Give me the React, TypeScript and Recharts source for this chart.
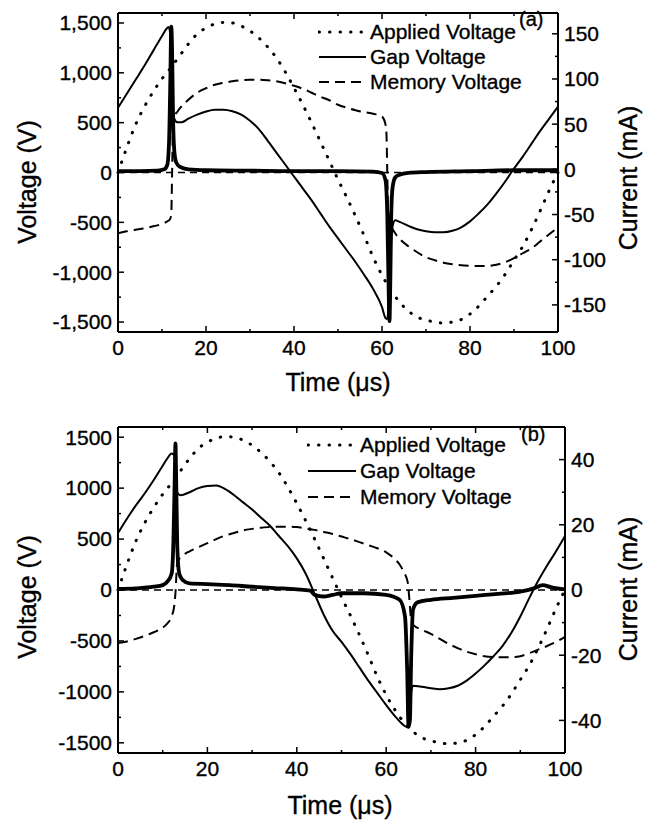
import React from "react";
import { LineChart, Line, XAxis, YAxis, ReferenceLine, Legend } from "recharts";

const FONT = "'Liberation Sans', Arial, Helvetica, sans-serif";

// [time (µs), value]
const appliedVoltage: [number, number][] = [
  [0, 0], [2, 250], [4, 480], [6, 660], [8, 810], [10, 940], [12, 1050], [14, 1170], [16, 1290],
  [18, 1390], [20, 1450], [22, 1490], [24, 1505], [26, 1500], [28, 1470], [30, 1420], [32, 1350],
  [34, 1260], [36, 1150], [38, 1010], [40, 850], [42, 680], [44, 500], [46, 310], [48, 120],
  [50, -70], [52, -250], [54, -440], [56, -640], [58, -850], [60, -1030], [62, -1180], [64, -1300],
  [66, -1390], [68, -1450], [70, -1480], [72, -1500], [74, -1510], [76, -1500], [78, -1475],
  [80, -1420], [82, -1340], [84, -1240], [86, -1140], [88, -1020], [90, -880], [92, -740],
  [94, -570], [96, -380], [98, -180], [100, 0],
];

const gapVoltageA: [number, number][] = [
  [0, 650], [2, 790], [4, 930], [6, 1070], [8, 1220], [10, 1370], [11, 1440], [11.5, 1460],
  [11.9, 1380], [12.2, 1000], [12.5, 650], [12.9, 530], [13.5, 505], [14.5, 505], [16, 540],
  [18, 580], [20, 612], [22, 630], [24, 630], [26, 615], [28, 580], [30, 520], [32, 435], [34, 320],
  [36, 200], [38, 80], [40, -40], [42, -160], [44, -280], [46, -410], [48, -540], [50, -660],
  [52, -780], [54, -900], [56, -1030], [58, -1170], [60, -1350], [60.8, -1460], [61.2, -1470],
  [61.6, -1200], [62, -750], [62.4, -540], [63, -480], [64, -495], [66, -535], [68, -570],
  [70, -590], [72, -600], [74, -600], [76, -585], [78, -550], [80, -490], [82, -410], [84, -320],
  [86, -210], [88, -90], [90, 40], [92, 160], [94, 290], [96, 420], [98, 540], [100, 660],
];

const memoryVoltageA: [number, number][] = [
  [0, -610], [2, -590], [4, -575], [6, -560], [8, -540], [10, -515], [11, -495], [11.8, -470],
  [12.1, -420], [12.3, 0], [12.5, 450], [12.8, 560], [13.5, 610], [14, 640], [16, 730], [18, 800],
  [20, 845], [22, 880], [24, 900], [26, 915], [28, 925], [30, 930], [32, 930], [34, 925], [36, 915],
  [38, 895], [40, 870], [42, 840], [44, 800], [46, 760], [48, 725], [50, 680], [52, 650], [54, 625],
  [56, 605], [58, 590], [60, 560], [60.7, 500], [61, 400], [61.2, 0], [61.4, -400], [62, -520],
  [63, -610], [64, -665], [66, -740], [68, -800], [70, -850], [72, -880], [74, -905], [76, -920],
  [78, -930], [80, -935], [82, -938], [84, -937], [86, -925], [88, -900], [90, -860], [92, -810],
  [94, -760], [96, -690], [98, -620], [100, -550],
];

const currentA: [number, number][] = [
  [0, -2], [5, -2], [9, -1.5], [10.5, 0], [11.2, 5], [11.6, 30], [11.9, 100], [12.1, 158],
  [12.3, 130], [12.5, 60], [12.8, 20], [13.2, 8], [14, 3], [16, 0], [20, -1], [30, -1.5],
  [40, -2], [50, -2], [58, -2.5], [60, -4], [60.8, -12], [61.2, -50], [61.5, -130], [61.7, -168],
  [61.9, -120], [62.1, -50], [62.4, -20], [63, -9], [64, -6], [66, -4], [70, -3], [80, -2],
  [90, -1], [100, -1],
];

const gapVoltageB: [number, number][] = [
  [0, 560], [2, 700], [4, 830], [6, 950], [8, 1080], [10, 1220], [11, 1290], [12, 1340],
  [12.6, 1320], [13, 1100], [13.3, 950], [14, 930], [16, 960], [18, 1000], [20, 1020], [22, 1025],
  [24, 990], [26, 930], [28, 860], [30, 790], [32, 710], [34, 630], [36, 530], [38, 430], [40, 310],
  [42, 160], [44, -40], [46, -240], [48, -400], [50, -510], [52, -630], [54, -760], [56, -890],
  [58, -1010], [60, -1130], [62, -1240], [64, -1330], [64.9, -1350], [65.3, -1300], [65.6, -1000],
  [66, -940], [68, -950], [70, -965], [72, -975], [74, -965], [76, -940], [78, -890], [80, -820],
  [82, -740], [84, -650], [86, -550], [88, -420], [90, -260], [92, -80], [94, 90], [96, 240],
  [98, 380], [100, 530],
];

const memoryVoltageB: [number, number][] = [
  [0, -520], [2, -505], [4, -480], [6, -450], [8, -415], [10, -370], [11, -330], [12, -260],
  [12.6, -150], [12.9, 0], [13.2, 250], [13.6, 300], [14, 320], [16, 380], [18, 420], [20, 460],
  [22, 500], [24, 535], [26, 560], [28, 585], [30, 600], [32, 612], [34, 618], [36, 622], [38, 622],
  [40, 618], [42, 605], [44, 590], [46, 570], [48, 550], [50, 525], [52, 500], [54, 470], [56, 440],
  [58, 410], [60, 370], [62, 300], [63, 250], [64, 170], [64.8, 80], [65.2, -100], [65.6, -300],
  [66, -340], [68, -390], [70, -430], [72, -480], [74, -530], [76, -570], [78, -605], [80, -630],
  [82, -650], [84, -658], [86, -660], [88, -660], [90, -650], [92, -620], [94, -585], [96, -550],
  [98, -510], [100, -460],
];

const currentB: [number, number][] = [
  [0, 0.3], [4, 0.5], [8, 1], [10, 1.5], [11, 2.5], [12, 5], [12.4, 15], [12.7, 35], [12.85, 45],
  [13, 35], [13.3, 12], [13.7, 5], [14.5, 3], [16, 2], [20, 1.8], [25, 1.5], [30, 1], [35, 0.6],
  [40, 0.2], [43, -0.2], [44, -1.5], [46, -2], [48, -1.5], [50, -1], [55, -1], [60, -1.5], [63, -3],
  [64.2, -8], [64.7, -25], [65, -42], [65.3, -40], [65.6, -20], [66, -6], [67, -3.8], [70, -3],
  [75, -2.4], [80, -1.8], [85, -1.2], [90, -0.5], [93, 0.5], [95, 1.5], [97, 0.8], [100, 0.2],
];

const timeTicks = [0, 10, 20, 30, 40, 50, 60, 70, 80, 90, 100];
const timeLabels = [0, 20, 40, 60, 80, 100];
const voltTicks = [-1500, -1250, -1000, -750, -500, -250, 0, 250, 500, 750, 1000, 1250, 1500];
const voltLabels = [-1500, -1000, -500, 0, 500, 1000, 1500];
const currentTicksA = [-150, -125, -100, -75, -50, -25, 0, 25, 50, 75, 100, 125, 150];
const currentLabelsA = [-150, -100, -50, 0, 50, 100, 150];
const currentTicksB = [-40, -30, -20, -10, 0, 10, 20, 30, 40];
const currentLabelsB = [-40, -20, 0, 20, 40];

const toRows = (pts: [number, number][]) => pts.map(([t, v]) => ({ t, v }));

const W = 660;
const H = 411;

const styles = {
  applied: { w: 3, dash: "0.5 10", cap: "round" as const },
  gap: { w: 2, dash: undefined, cap: "butt" as const },
  memory: { w: 2, dash: "10 6", cap: "butt" as const },
};

const legendItems = [
  { name: "Applied Voltage", ...styles.applied },
  { name: "Gap Voltage", ...styles.gap },
  { name: "Memory Voltage", ...styles.memory },
];

interface PanelSpec {
  tag: string;
  plot: { top: number; bottom: number; left: number; right: number };
  curDomain: [number, number];
  curTicks: number[];
  curLabels: number[];
  commas: boolean;
  gap: [number, number][];
  memory: [number, number][];
  current: [number, number][];
  legend: { left: number; top: number; row: number; sample: number; tagLeft: number; tagTop: number };
  titles: { vx: number; vy: number; cx: number; cy: number; tx: number; ty: number };
}

const txt = { fontFamily: FONT, fontSize: 21, fill: "#000", stroke: "#000", strokeWidth: 0.35 };

function Panel({ p }: { p: PanelSpec }) {
  const { plot } = p;
  const fmtV = (v: number) => (p.commas ? v.toLocaleString("en-US") : String(v));

  const voltTick = ({ x, y, payload }: any) => {
    const major = voltLabels.includes(payload.value);
    return (
      <g>
        <line x1={x} x2={x + (major ? 6 : 3)} y1={y} y2={y} stroke="#000" strokeWidth={1.5} />
        {major && (
          <text x={x - 6} y={y} dy="0.35em" textAnchor="end" {...txt}>
            {fmtV(payload.value)}
          </text>
        )}
      </g>
    );
  };

  const curTick = ({ x, y, payload }: any) => {
    const major = p.curLabels.includes(payload.value);
    return (
      <g>
        <line x1={x} x2={x - (major ? 6 : 3)} y1={y} y2={y} stroke="#000" strokeWidth={1.5} />
        {major && (
          <text x={x + 6} y={y} dy="0.35em" textAnchor="start" {...txt}>
            {payload.value}
          </text>
        )}
      </g>
    );
  };

  const timeTick = ({ x, y, payload }: any) => {
    const major = timeLabels.includes(payload.value);
    const len = major ? 6 : 3;
    return (
      <g>
        <line x1={x} x2={x} y1={y} y2={y - len} stroke="#000" strokeWidth={1.5} />
        <line x1={x} x2={x} y1={plot.top} y2={plot.top + len} stroke="#000" strokeWidth={1.5} />
        {major && (
          <text x={x} y={y + 7} dy="0.75em" textAnchor="middle" {...txt}>
            {payload.value}
          </text>
        )}
      </g>
    );
  };

  const title = (s: string, x: number, y: number, rot: boolean) => ({
    content: () => (
      <text
        x={x}
        y={y}
        dy="0.35em"
        textAnchor="middle"
        transform={rot ? `rotate(-90 ${x} ${y})` : undefined}
        fontFamily={FONT}
        fontSize={25}
        fill="#000"
        stroke="#000"
        strokeWidth={0.35}
      >
        {s}
      </text>
    ),
  });

  const lg = p.legend;
  const legendBox = () => (
    <div
      style={{
        position: "relative",
        width: 250,
        height: 3 * lg.row,
        fontFamily: FONT,
        fontSize: 21,
        color: "#000",
        WebkitTextStroke: "0.35px #000",
      }}
    >
      {legendItems.map((it, i) => (
        <div
          key={it.name}
          style={{ position: "absolute", left: 0, top: i * lg.row, height: lg.row, lineHeight: `${lg.row}px`, display: "flex", alignItems: "center", whiteSpace: "nowrap" }}
        >
          <svg width={lg.sample} height={10} style={{ display: "block" }}>
            <line x1={1} x2={lg.sample - 1} y1={5} y2={5} stroke="#000" strokeWidth={it.w} strokeDasharray={it.dash} strokeLinecap={it.cap} />
          </svg>
          <span style={{ marginLeft: 3 }}>{it.name}</span>
        </div>
      ))}
      <div style={{ position: "absolute", left: lg.tagLeft, top: lg.tagTop, lineHeight: "25px", fontSize: 20 }}>{p.tag}</div>
    </div>
  );

  return (
    <LineChart width={W} height={H} margin={{ top: plot.top, right: 0, bottom: 0, left: 0 }}>
      <XAxis
        dataKey="t"
        type="number"
        domain={[0, 100]}
        ticks={timeTicks}
        interval={0}
        height={H - plot.bottom}
        tickSize={0}
        tickMargin={0}
        tickLine={false}
        axisLine={{ stroke: "#000", strokeWidth: 2 }}
        tick={timeTick}
        label={title("Time (\u03bcs)", p.titles.tx, p.titles.ty, false)}
      />
      <YAxis
        yAxisId="v"
        type="number"
        domain={[-1600, 1600]}
        ticks={voltTicks}
        interval={0}
        width={plot.left}
        allowDataOverflow
        tickSize={0}
        tickMargin={0}
        tickLine={false}
        axisLine={{ stroke: "#000", strokeWidth: 2 }}
        tick={voltTick}
        label={title("Voltage (V)", p.titles.vx, p.titles.vy, true)}
      />
      <YAxis
        yAxisId="i"
        orientation="right"
        type="number"
        domain={p.curDomain}
        ticks={p.curTicks}
        interval={0}
        width={W - plot.right}
        allowDataOverflow
        tickSize={0}
        tickMargin={0}
        tickLine={false}
        axisLine={{ stroke: "#000", strokeWidth: 2 }}
        tick={curTick}
        label={title("Current (mA)", p.titles.cx, p.titles.cy, true)}
      />
      <ReferenceLine yAxisId="v" y={1600} stroke="#000" strokeWidth={2} />
      <ReferenceLine yAxisId="v" y={0} stroke="#000" strokeWidth={1.4} strokeDasharray="7 5" />
      <Legend
        layout="vertical"
        align="center"
        verticalAlign="middle"
        wrapperStyle={{ left: lg.left, top: lg.top, width: 250 }}
        content={legendBox}
      />
      <Line
        yAxisId="v"
        data={toRows(appliedVoltage)}
        dataKey="v"
        type="monotone"
        stroke="#000"
        strokeWidth={styles.applied.w}
        strokeDasharray={styles.applied.dash}
        strokeLinecap="round"
        dot={false}
        activeDot={false}
        isAnimationActive={false}
      />
      <Line
        yAxisId="v"
        data={toRows(p.memory)}
        dataKey="v"
        type="monotone"
        stroke="#000"
        strokeWidth={styles.memory.w}
        strokeDasharray={styles.memory.dash}
        dot={false}
        activeDot={false}
        isAnimationActive={false}
      />
      <Line
        yAxisId="v"
        data={toRows(p.gap)}
        dataKey="v"
        type="monotone"
        stroke="#000"
        strokeWidth={styles.gap.w}
        dot={false}
        activeDot={false}
        isAnimationActive={false}
      />
      <Line
        yAxisId="i"
        data={toRows(p.current)}
        dataKey="v"
        type="monotone"
        stroke="#000"
        strokeWidth={3.8}
        dot={false}
        activeDot={false}
        isAnimationActive={false}
      />
    </LineChart>
  );
}

const panelA: PanelSpec = {
  tag: "(a)",
  plot: { top: 13, bottom: 332, left: 118, right: 558 },
  curDomain: [-180, 173],
  curTicks: currentTicksA,
  curLabels: currentLabelsA,
  commas: true,
  gap: gapVoltageA,
  memory: memoryVoltageA,
  current: currentA,
  legend: { left: 318, top: 19, row: 25, sample: 49, tagLeft: 201, tagTop: -12 },
  titles: { vx: 27, vy: 182, cx: 628, cy: 178, tx: 338, ty: 382 },
};

const panelB: PanelSpec = {
  tag: "(b)",
  plot: { top: 16, bottom: 342, left: 118, right: 565 },
  curDomain: [-50, 50],
  curTicks: currentTicksB,
  curLabels: currentLabelsB,
  commas: false,
  gap: gapVoltageB,
  memory: memoryVoltageB,
  current: currentB,
  legend: { left: 307, top: 21, row: 26, sample: 50, tagLeft: 214, tagTop: -10 },
  titles: { vx: 27, vy: 186, cx: 628, cy: 178, tx: 340, ty: 394 },
};

export default function App() {
  return (
    <div style={{ position: "absolute", left: 0, top: 0, width: W, height: 822, background: "#fff", fontFamily: FONT }}>
      <Panel p={panelA} />
      <Panel p={panelB} />
    </div>
  );
}
